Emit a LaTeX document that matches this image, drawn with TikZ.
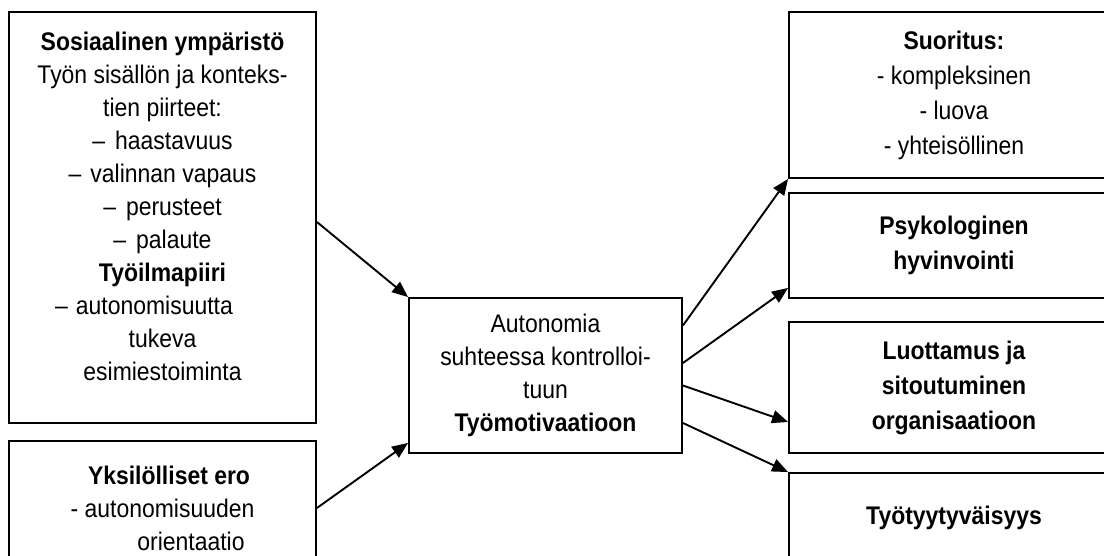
\documentclass[tikz,border=0pt]{standalone}
\usepackage{fontspec}
\setmainfont{Liberation Sans}[FakeStretch=0.9]
\usetikzlibrary{arrows.meta}
\begin{document}
\begin{tikzpicture}[x=1pt,y=-1pt,>={Triangle[length=16pt,width=13pt]}]
\tikzstyle{box} = [rectangle, align=center, draw=black, line width=1.9pt, inner sep=0pt, font=\fontsize{25.5}{33}\selectfont]
\tikzstyle{outbox} = [box, minimum width=330pt, font=\fontsize{25.5}{35}\selectfont]
\useasboundingbox (0,0) rectangle (1104,556);
\clip (0,0) rectangle (1104,556);
\node[box, minimum width=307pt, minimum height=411pt] at (162.5,217.5) (soc){\textbf{Sosiaalinen ympäristö}\\Työn sisällön ja konteks-\\tien piirteet:\\--\hspace{10pt}haastavuus\\--\hspace{9pt}valinnan vapaus\\--\hspace{10pt}perusteet\\--\hspace{10pt}palaute\\\textbf{Työilmapiiri}\\--\hspace{8pt}autonomisuutta\hspace*{37pt}\mbox{}\\tukeva\\esimiestoiminta\\[-10pt]\mbox{}};
\node[box, minimum width=307pt, minimum height=134pt] at (162.5,508) (yks){\hspace*{13pt}\textbf{Yksilölliset ero}\\- autonomisuuden\\\hspace*{57pt}orientaatio};
\node[box, minimum width=273pt, minimum height=155pt] at (545.5,375.5) (aut){Autonomia\\suhteessa kontrolloi-\\tuun\\\textbf{Työmotivaatioon}};
\node[outbox, minimum height=166pt] at (954,95) (suo){\textbf{Suoritus:}\\- kompleksinen\\- luova\\- yhteisöllinen};
\node[outbox, minimum height=105pt] at (954,245.5) (psy){\textbf{Psykologinen}\\\textbf{hyvinvointi}};
\node[outbox, minimum height=131pt] at (954,387.5) (luo){\textbf{Luottamus ja}\\\textbf{sitoutuminen}\\\textbf{organisaatioon}};
\node[outbox, minimum height=90pt] at (954,518) (tyo){\textbf{Työtyytyväisyys}};
\draw[line width=1.9pt,->] ([yshift=-4.5pt]soc.east) -- (aut.north west);
\draw[line width=1.9pt,->] (yks.east) -- ([yshift=11pt]aut.south west);
\draw[line width=1.9pt,->] ([yshift=50pt]aut.east) -- (suo.south west);
\draw[line width=1.9pt,->] ([yshift=12.5pt]aut.east) -- ([yshift=11pt]psy.south west);
\draw[line width=1.9pt,->] ([yshift=-10pt]aut.east) -- ([yshift=-34.5pt]luo.west);
\draw[line width=1.9pt,->] ([yshift=-47.5pt]aut.east) -- (tyo.north west);
\end{tikzpicture}
\end{document}
